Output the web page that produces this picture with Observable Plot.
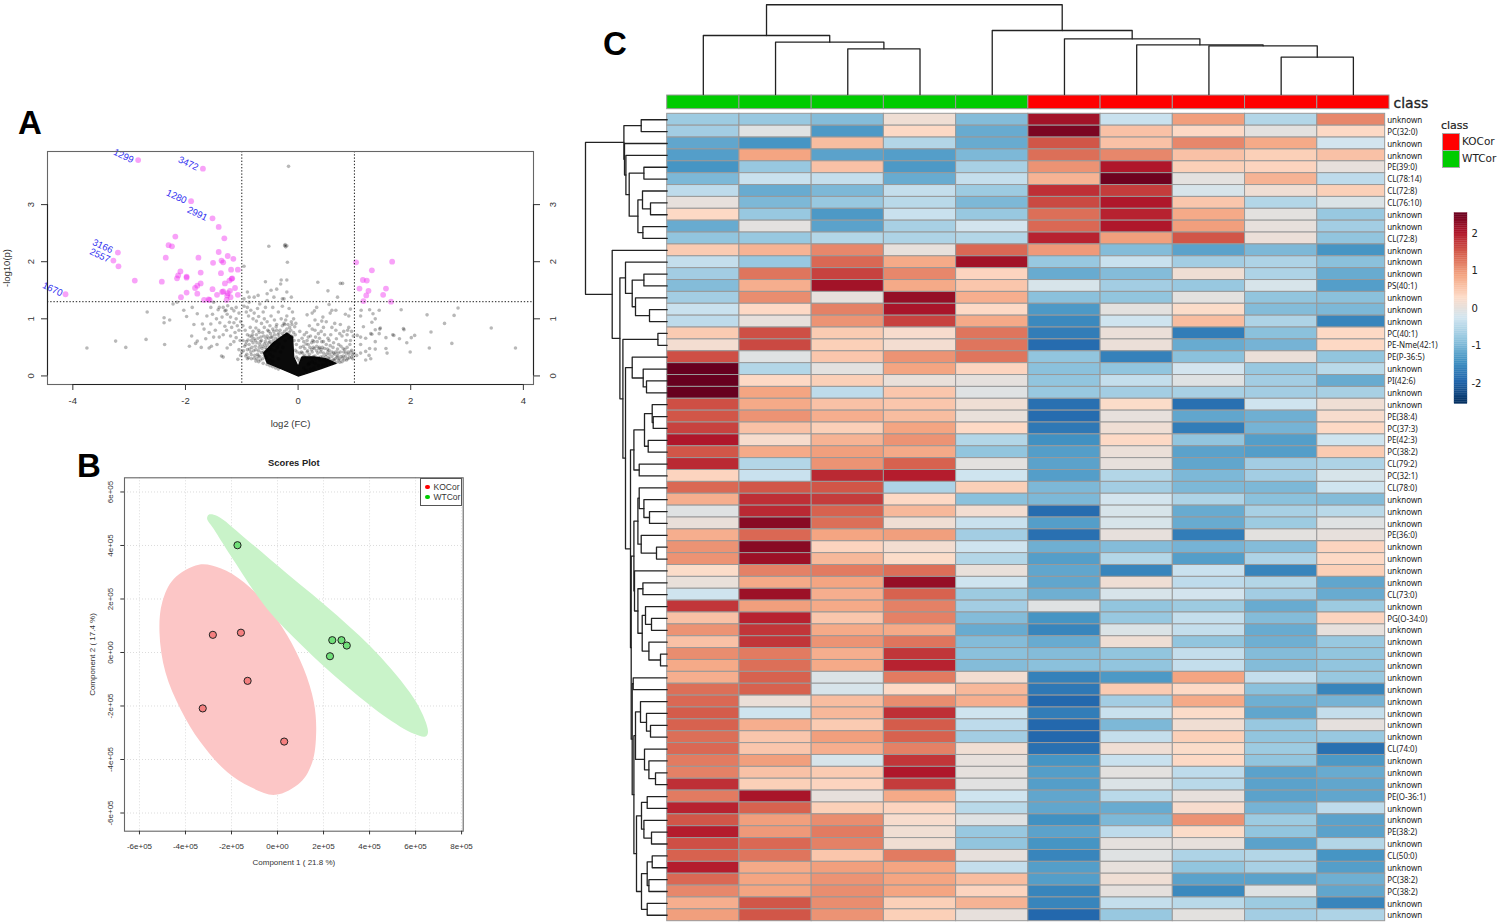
<!DOCTYPE html>
<html><head><meta charset="utf-8">
<script src="https://cdn.jsdelivr.net/npm/d3@7"></script>
<script src="https://cdn.jsdelivr.net/npm/@observablehq/plot@0.6"></script>
<style>
html,body{margin:0;background:#fff}
#page{position:relative;width:1500px;height:922px;overflow:hidden;background:#fff;font-family:"Liberation Sans",sans-serif}
.abs{position:absolute;white-space:nowrap}
.letter{font:bold 33px "Liberation Sans",sans-serif;color:#000;line-height:1}
</style></head><body><div id="page"></div>
<script>
// ---------- Panel A: volcano ----------
const upPoints=[[-2.84,3.78],[-1.69,3.63],[-1.90,3.06],[-1.52,2.76],[-1.41,2.61],[-1.31,2.41],[-2.18,2.44],[-2.30,2.29],[-2.24,2.27],[-3.2,2.16],[-3.28,2.02],[-3.19,1.92],[-4.13,1.43],[-2.90,1.67],[-2.42,1.65],[-2.35,2.07],[-1.77,2.07],[-1.51,1.98],[-1.41,2.17],[-1.25,2.1],[-1.15,2.05],[-1.36,2.02],[-1.33,1.99],[-1.07,1.86],[-1.19,1.86],[-1.73,1.81],[-1.37,1.8],[-2.09,1.83],[-2.13,1.76],[-2.15,1.71],[-1.98,1.74],[-1.98,1.72],[-1.73,1.62],[-1.79,1.58],[-1.83,1.54],[-1.98,1.46],[-2.08,1.38],[-1.79,1.44],[-1.52,1.52],[-1.44,1.42],[-1.35,1.47],[-1.33,1.48],[-1.30,1.62],[-1.22,1.67],[-1.18,1.70],[-1.17,1.71],[-1.12,1.54],[-1.07,1.42],[-1.21,1.49],[-1.25,1.45],[-1.26,1.41],[-1.2,1.38],[-1.27,1.33],[-1.67,1.33],[-1.59,1.34],[-1.57,1.33],
[1.03,1.99],[1.67,2.0],[1.31,1.85],[1.15,1.68],[1.22,1.67],[1.09,1.53],[1.56,1.53],[1.25,1.49],[1.21,1.41],[1.51,1.42],[1.16,1.31],[1.65,1.30]];
const idLabels=["1299","3472","1280","2991","3166","2557","1670"];
const idX=[-3.10,-1.95,-2.16,-1.79,-3.47,-3.52,-4.36];
const idY=[3.85,3.72,3.14,2.84,2.27,2.11,1.52];
const fcCuts=[-1,1];
const pCut=1.3;
const grayPoints=[[-3.75,.49],[-3.24,.61],[-3.06,.5],[-2.7,.64],[-2.68,1.12],[-2.38,1.02],[-2.38,.93],[-2.28,.98],[-2.37,.55],[-1.93,.52],[-1.89,.7],[-1.79,.61],[-1.82,.57],[-1.72,.5],[-1.64,.65],[-1.58,.49],[-1.54,.52],[-1.5,.68],[-1.4,.68],[-1.36,.35],[-1.33,.33],[-1.44,.55],[-1.26,.49],[-1.2,.55],[-1.14,.6],[-1.07,.29],
[-.17,3.67],[-.24,2.28],[-.23,2.30],[-.19,1.99],[.35,1.64],[.75,1.62],[.79,1.62],[-.3,1.68],[-.2,1.68],[.53,1.49],[.70,1.38],[-.12,1.38],[-.28,1.35],[-.2,1.47],[.55,1.25],[.33,1.2],[.29,1.14],[.25,1.10],[.16,1.07],[.44,1.03],[.67,1.15],[.60,1.15],[.57,1.1],[.84,1.08],[.9,1.05],[.93,1.17],[1.12,1.15],[1.27,1.16],[1.33,1.09],[1.44,1.15],[1.83,1.16],[2.29,1.07],[2.84,1.19],[2.77,1.06],[2.6,.92],[3.43,.84],[2.36,.77],[1.87,.83],[1.88,.81],[2.07,.71],[2.01,.67],[1.93,.58],[2.33,.49],[2.73,.57],[3.86,.49],[1.99,.42],[1.8,.65],[1.68,.72],[1.7,.71],[1.56,.67],[1.37,1.0],[1.31,.94],[1.46,.84],[1.45,.82],[1.37,.81],[1.44,.74],[1.29,.74],[1.31,.73],[1.37,.6],[1.56,.48],[1.58,.4],[1.37,.47],[1.27,.48],[1.2,.43],[1.29,.3],[1.2,.28],[1.26,.36],[1.11,.55],[1.2,.66],[1.16,.86],[1.11,.68],[1.05,.71],[1.11,1.05],[1.04,.36],[1.11,.4],
[.12,.48],[.18,.55],[.22,.7],[.25,.82],[.3,.8],[.16,.62],[.28,.6],[.33,.52],[.38,.66],[.4,.42],[.45,.6],[.47,.72],[.5,.55],[.55,.62],[.58,.72],[.62,.5],[.65,.92],[.6,.85],[.68,.65],[.72,.55],[.75,.9],[.78,.7],[.8,.48],[.85,.62],[.88,.8],[.9,.85],[.92,.55],[.95,.45],[.98,.7],[.35,.9],[.42,.96],[.45,.85],[.5,.95],[.3,.98],[.2,.88],[.15,.76],[.1,.6],[.08,.4],[.2,.38],[.25,.42],[.3,.35],[.35,.4],[.4,.33],[.45,.4],[.5,.38],[.55,.45],[.6,.42],[.65,.38],[.7,.35],[.75,.42],[.8,.35],[.85,.4],[.9,.38],[.95,.33],[.72,.28],[.78,.25],[.66,.3],[.62,.28],[.55,.3],[.88,.3],[.82,.28],[.25,.25],[.2,.22],[.3,.22],[.14,.32],[.17,.44],[.27,.5],[.37,.48],[.43,.5],[.52,.47],[.57,.53],[.63,.58],[.7,.47],[.76,.52],[.83,.46],[.87,.5],[.93,.62],[.97,.37],[.24,.58],[.31,.68],[.36,.74],[.41,.78],[.53,.66],[.67,.8],[.74,.74],[.81,.78],[.87,.72],[.95,.78],
[-.96,1.92],[-.52,2.27],[-.2,2.28],[-.22,2.26],[-.58,1.65],[-.38,1.52],[-.48,1.5],[-.31,1.61],[-.55,1.44],[-.9,1.47],[-.71,1.41],[-.78,1.38],[-.87,1.38],[-.96,1.35],[-.55,1.32],[-.43,1.38],[-.25,1.35],[-.87,1.29],[-.9,1.2],[-2.22,1.26],[-2.15,1.29],[-2.03,1.15],[-1.98,1.04],[-1.88,1.2],[-1.79,1.09],[-1.85,.9],[-1.7,.91],[-1.67,.82],[-1.58,.76],[-1.55,.91],[-1.52,1.08],[-1.4,1.2],[-1.55,1.2],[-1.33,1.2],[-1.5,1.29],[-1.39,.93],[-1.26,1.08],[-1.2,1.03],[-1.14,1.14],[-1.14,.93],[-1.42,1.16],[-1.3,1.14],[-1.25,1.23],[-1.18,1.18],[-1.1,1.2],[-1.05,1.1],[-1.1,1.0],[-1.22,.94],[-1.3,.87],[-1.18,.85],[-1.08,.88],[-1.02,.95],[-1.45,1.0],[-1.35,1.03],[-1.27,.8],[-1.12,.76],[-1.05,.8],[-1.2,.7],[-1.1,.67],[-1.03,.62],[-1.33,.72],[-1.0,.42],[-1.05,.46],[-1.02,.36],[-1.28,1.15],[-1.62,1.05],[-1.47,.8],
[-.96,1.22],[-.92,1.12],[-.88,1.05],[-.84,1.15],[-.8,1.0],[-.78,1.1],[-.74,.96],[-.7,1.04],[-.72,1.18],[-.65,.92],[-.6,1.0],[-.62,1.12],[-.55,.95],[-.5,.88],[-.48,1.05],[-.42,.98],[-.38,.9],[-.35,1.12],[-.3,1.0],[-.25,.92],[-.2,1.05],[-.16,1.18],[-.1,1.12],[-.12,.95],[-.06,.86],[-.28,1.22],[-.45,1.2],[-.58,1.2],[-.68,1.26],
[-.98,.88],[-.94,.8],[-.9,.72],[-.85,.85],[-.82,.68],[-.8,.78],[-.76,.62],[-.74,.72],[-.7,.8],[-.68,.55],[-.66,.68],[-.63,.76],[-.6,.85],[-.58,.6],[-.55,.7],[-.52,.78],[-.48,.68],[-.45,.82],[-.42,.72],[-.38,.8],[-.34,.75],[-.98,.62],[-.95,.52],[-.92,.6],[-.9,.46],[-.87,.55],[-.84,.42],[-.82,.5],[-.8,.58],[-.77,.36],[-.75,.46],[-.72,.38],[-.7,.44],[-.97,.44],[-.93,.35],[-.88,.32],[-.83,.3],[-.68,.34],[-.64,.48],[-.61,.42],
[-.58,.5],[-.56,.46],[-.52,.58],[-.5,.5],[-.47,.56],[-.44,.62],[-.4,.58],[-.36,.64],[-.33,.68],[-.28,.74],[-.24,.78],[-.2,.82],[-.16,.76],[-.12,.7],[-.07,.62],[-.05,.45],[-.08,.76],[-.03,.33],[.02,.26],[.06,.3],[.1,.34],[.03,.4],
[-.93,.55],[-.91,.38],[-.89,.63],[-.86,.7],[-.86,.47],[-.83,.62],[-.83,.37],[-.81,.72],[-.79,.44],[-.78,.65],[-.78,.31],[-.76,.52],[-.75,.84],[-.73,.58],[-.73,.3],[-.71,.66],[-.71,.35],[-.69,.5],[-.69,.76],[-.67,.6],[-.67,.28],[-.65,.41],[-.65,.62],[-.63,.52],[-.63,.3],[-.61,.7],[-.6,.36],[-.6,.56],[-.58,.42],[-.57,.66],[-.56,.33],[-.55,.54],[-.54,.8],[-.53,.44],[-.52,.66],[-.5,.38],[-.5,.6],[-.49,.74],[-.47,.46],[-.46,.68],[-.45,.34],[-.44,.54],[-.43,.78],[-.41,.44],[-.4,.66],[-.39,.86],[-.37,.5],[-.36,.72],[-.35,.3],[-.34,.56],[-.32,.8],[-.31,.42],[-.3,.66],[-.28,.88],[-.27,.5],[-.26,.7],[-.24,.9],[-.23,.62],[-.22,.98],[-.2,.72],[-.18,.9],[-.16,.66],[-.15,.85],[-.13,.8],[-.11,.9],[-.1,.68],[-.08,1.0],[-.05,.72],[-.04,.92],[-.03,.55],[-.02,.42],[.0,.3],[.01,.62],[.03,.78],[.04,.5],[.06,.42],[.07,.66],[.09,.52],[.11,.72],[.12,.36],[.14,.56],[.16,.42],[.18,.68],[.19,.34],[.21,.5],[.23,.32],[.24,.46],[.26,.62],[.27,.34],[.29,.48],[.31,.3],[.33,.44],[.34,.6],[.36,.32],[.38,.5],[.39,.28],[.41,.46],[.42,.6],[.44,.34],[.46,.28],[.47,.48],[.49,.34],[.51,.26],[.53,.42],[.54,.32],[.56,.38],[.58,.26],[.6,.34],[.61,.22],[.63,.4],[.64,.28],[.67,.42],[.68,.24],[.69,.33],[.71,.4],[.73,.3],[.74,.24],[.76,.34],[.79,.31],[.81,.42],[.84,.34],[.86,.28],[.89,.42],[.91,.32],[.94,.42],[.97,.3],[.99,.4],
[.22,.12],[.28,.14],[.36,.18],[.44,.19],[.5,.2],[.58,.22],[.14,.1],[.1,.14],[.18,.2],
[-.9,.3],[-.75,.26],[-.7,.25],[-.62,.22],[-.55,.2],[-.5,.18],[-.45,.16],[-.4,.14],[-.35,.12],[-.5,.28],[-.45,.25],[-.55,.27],[-.58,.32]];
const coreOutline=[[0,0],[-.26,.11],[-.55,.23],[-.61,.4],[-.44,.58],[-.2,.75],[-.1,.68],[-.08,.33],[0,.16],[.07,.33],[.28,.33],[.49,.3],[.67,.22],[.41,.13],[.14,.04]];

// ---------- Panel B: scores plot ----------
const koScores=[[-281000,66000],[-159000,74000],[-130000,-106000],[-325000,-209000],[29000,-333000]];
const wtScores=[[-174000,401000],[238000,46000],[278000,46000],[301000,26000],[228000,-14000]];
const koEllipse=[[-3.42,3.28],[-2.48,3.15],[-1.46,2.63],[-.45,1.76],[.42,.64],[1.14,-.61],[1.58,-1.86],[1.68,-2.98],[1.51,-4.10],[1.0,-4.85],[-.09,-5.32],[-1.17,-5.03],[-2.19,-4.47],[-3.35,-3.35],[-4.22,-2.11],[-4.87,-.74],[-5.13,.76],[-5.01,1.88],[-4.51,2.75]];
const wtEllipse=[[-2.99,5.15],[-2.62,5.10],[-1.46,4.31],[.42,2.94],[2.59,1.38],[4.48,-.17],[6.07,-1.92],[6.54,-2.98],[6.43,-3.14],[5.93,-3.04],[4.62,-2.36],[2.88,-1.17],[1.14,.2],[-.45,1.63],[-2.04,3.63],[-2.77,4.62],[-3.06,5.0]];
const scoreTicksX=[-6e5,-4e5,-2e5,0,2e5,4e5,6e5,8e5];
const scoreTicksY=[-6e5,-4e5,-2e5,0,2e5,4e5,6e5];
const sci={"-600000":"-6e+05","-400000":"-4e+05","-200000":"-2e+05","0":"0e+00","200000":"2e+05","400000":"4e+05","600000":"6e+05","800000":"8e+05"};

// ---------- Panel C: heatmap ----------
const rowLabels=["unknown","PC(32:0)","unknown","unknown","PE(39:0)","CL(78:14)","CL(72:8)","CL(76:10)","unknown","unknown","CL(72:8)","unknown","unknown","unknown","PS(40:1)","unknown","unknown","unknown","PC(40:1)","PE-Nme(42:1)","PE(P-36:5)","unknown","PI(42:6)","unknown","unknown","PE(38:4)","PC(37:3)","PE(42:3)","PC(38:2)","CL(79:2)","PC(32:1)","CL(78:0)","unknown","unknown","unknown","PE(36:0)","unknown","unknown","unknown","unknown","CL(73:0)","unknown","PG(O-34:0)","unknown","unknown","unknown","unknown","unknown","unknown","unknown","unknown","unknown","unknown","CL(74:0)","unknown","unknown","unknown","PE(O-36:1)","unknown","unknown","PE(38:2)","unknown","CL(50:0)","unknown","PC(38:2)","PC(38:2)","unknown","unknown"];
const heatRows=[
[-.75,-.8,-.95,.1,-.95,2.1,-.35,.9,-.55,1.1],
[-.7,-.1,-1.35,.3,-1.15,2.4,.55,.3,-.05,.3],
[-1.2,-1.4,.6,-.55,-1.15,1.5,.55,1.1,.8,-.25],
[-1.3,.85,-1.25,-1.3,-1.0,1.3,1.1,.55,.4,.55],
[-1.4,-.8,.55,-1.35,-.65,1.0,2.0,.4,.35,0],
[-1.0,-.35,-.4,-1.15,-.4,.7,2.5,-.05,.7,-.45],
[-.45,-1.15,-1.0,-.4,-.75,1.8,1.7,-.2,.1,.4],
[0,-1.0,-.8,-.5,-1.0,1.6,2.0,.5,-.55,-.15],
[.3,-.8,-1.35,-.35,-.8,1.3,1.9,.8,-.05,-.8],
[-1.15,-.05,-1.25,-.65,-.25,1.35,2.0,.9,0,-.7],
[-.85,-.8,-.55,-.6,-.55,1.9,.9,1.5,.05,-.85],
[.45,.7,1.1,0,1.35,.95,-.95,-1.25,-1.0,-1.4],
[-.4,-.8,1.35,.8,2.1,-.8,-.35,-.7,-.6,-.9],
[-.7,1.25,1.65,1.1,.35,-1.15,-.95,.1,-.6,-1.15],
[-.95,.75,2.1,.8,.5,-.2,-.7,-.8,-.2,-1.3],
[-.7,1.05,0,2.2,.75,-.9,-.85,-.05,-.85,-.9],
[-.35,.3,1.15,2.05,.3,-1.35,-.05,.25,-.95,-1.0],
[-.45,0,1.0,1.65,.8,-1.55,-.3,.6,-.6,-1.6],
[.45,1.55,.45,.2,1.25,-1.7,.05,-1.7,-.9,.3],
[.15,1.6,.4,.15,1.25,-1.9,.05,-1.15,-1.05,.3],
[1.55,-.1,.5,1.0,1.25,-.85,-1.65,-.9,.05,-.85],
[2.55,-.55,-.05,.85,.35,-.9,-.85,-.25,-.8,-.5],
[2.55,.3,.4,.02,-.02,-.85,-.4,-.1,-.7,-1.15],
[2.55,.85,-.45,.5,-.1,-.8,-.7,-.65,-.7,-.65],
[1.55,.8,.55,.5,.1,-1.85,.25,-1.85,-.3,.1],
[1.5,1.0,.75,.6,.02,-1.9,0,-1.2,-1.1,.2],
[1.65,.55,.4,.85,.3,-1.75,.1,-1.7,-1.05,.3],
[2.0,.2,.7,1.0,-.55,-1.45,.3,-.85,-1.3,-.3],
[1.5,.8,.9,.8,-.85,-1.3,.05,-1.25,-1.3,.45],
[1.85,-.55,1.0,1.4,-.05,-1.25,0,-1.2,-.7,-.6],
[.35,-.35,1.85,1.95,-.3,-1.3,-.55,-1.0,-.7,-.2],
[1.35,1.5,1.5,-.6,.4,-1.0,-.7,-1.0,-1.0,-.3],
[.75,1.8,1.7,.3,-.9,-1.0,-.25,-.6,-.9,-.95],
[-.1,1.85,1.4,.65,.15,-1.9,-.2,-1.15,-.65,-.5],
[.03,2.3,1.3,.1,-.35,-1.3,-.2,-1.15,-.75,-.1],
[.75,1.35,.85,.9,-.7,-1.85,0,-1.7,-.05,0],
[1.0,2.3,.35,.15,-.3,-1.1,-.95,-1.05,-.95,.35],
[1.0,2.15,.65,.25,-.55,-1.3,-.55,-1.3,-.6,.3],
[.25,1.15,1.2,1.3,.02,-1.2,-1.6,-.35,-1.6,.4],
[.02,.8,.85,2.2,-.3,-1.2,.1,-.45,-.55,-1.2],
[-.3,2.15,.75,1.4,-.75,-1.1,-.2,-.25,-.7,-1.15],
[1.75,.9,.8,1.15,-.7,-.1,-.85,-.75,-1.15,-.75],
[.55,1.9,.5,1.15,-.95,-1.4,-.8,-.4,-.95,.35],
[1.0,1.75,.8,.8,-1.15,-1.6,-.15,-.4,-1.15,0],
[.55,1.75,1.0,1.25,-.95,-1.15,.1,-.85,-1.1,-.8],
[1.05,1.2,.75,1.75,-.9,-.95,-.85,-.4,-.95,-.85],
[.8,1.3,.8,1.9,-.95,-.9,-.85,-.4,-.95,-.85],
[.75,1.4,-.15,1.2,.15,-1.65,-1.35,.85,-.4,-.8],
[1.3,1.4,-.2,.3,.65,-1.75,.45,.3,-.9,-1.6],
[1.35,.05,.6,1.05,.75,-1.95,-.7,.8,-1.1,-1.05],
[1.45,-.3,.65,1.8,-.3,-1.7,-.35,.25,-1.2,-.4],
[1.4,.75,.45,1.45,-.45,-1.95,-1.0,.12,-.8,-.02],
[1.3,.5,.9,1.4,-.7,-1.95,-.4,.4,-.85,-.8],
[1.35,.5,.75,1.15,.12,-1.85,.1,.25,-.75,-1.85],
[1.2,.9,-.2,1.75,0,-1.4,-.35,.3,-.85,-1.35],
[1.15,.55,.45,2.0,-.02,-1.3,-.05,-.45,-1.25,-1.15],
[1.8,.4,.35,1.7,-.08,-1.3,-.15,-.5,-1.25,-1.2],
[1.2,2.05,0,.8,-.3,-1.2,-.5,0,-1.25,-1.2],
[1.9,1.4,.4,.35,-.5,-1.2,-1.15,.2,-1.05,-.45],
[1.5,.9,1.05,.2,-.1,-1.45,-1.0,1.0,-.75,-1.25],
[1.95,.95,1.2,.12,-.8,-1.25,-.45,.25,-.85,-1.25],
[1.55,1.35,1.15,.12,-.85,-1.4,-.02,0,-1.25,-.55],
[1.4,1.25,.5,1.2,0,-1.6,-.1,-.6,-.55,-1.4],
[1.95,.8,.9,.85,-.4,-1.3,0,-.85,-.65,-1.3],
[1.35,.85,1.0,.85,.6,-1.3,.1,-1.25,-1.25,-1.1],
[1.1,.85,1.05,.85,.35,-1.6,-.02,-1.55,-.1,-1.2],
[.75,1.5,1.05,.4,.7,-1.6,-.4,-.5,-.75,-1.6],
[.9,1.5,1.0,.4,0,-1.95,-.8,-.05,-.7,-.6]];
const wtColumns=[0,1,2,3,4];
const koColumns=[5,6,7,8,9];
const colorStops=[-2.55,-1.98,-1.42,-.85,-.28,.28,.85,1.42,1.98,2.55];
const colorRamp=["#053061","#2166ac","#4393c3","#92c5de","#d1e5f0","#fddbc7","#f4a582","#d6604d","#b2182b","#67001f"];
const rampTicks=[-2,-1,0,1,2];
// dendrograms: [merge height, left child, right child]; numbers are leaf positions
const colTree=[89.7,[59,0,[52.3,1,[45.7,2,3]]],[64,4,[55.7,5,[49.7,6,[48.7,7,[37.3,8,9]]]]]];
const rowTop=[43.3,[26,0,1],[42.7,2,[41.3,3,[38,[23.3,4,5],[29.3,[24.7,6,[16.7,7,8]],[24.3,9,10]]]]]];
const rowP=[41.7,12,[35,[23.3,13,14],[31.7,15,[17.7,16,17]]]];
const rowV=[35,20,[24,21,[20.7,22,23]]];
const rowY1=[33.3,[22.7,[15,24,[14,25,26]],[19,27,28]],[28,29,30]];
const rowA=[29.3,[28,31,[23.3,32,[17.7,33,34]]],[26,35,[10.7,36,37]]];
const rowB=[32.7,38,[29.3,[24.3,39,40],[25,[21.7,41,[15.7,42,43]],[18.3,44,[6.7,45,46]]]]];
const rowS1=[31.7,[26.7,49,[20.7,50,[16.7,51,52]]],[22.7,53,[18.3,54,[11.7,55,56]]]];
const rowS2=[30.7,[25.7,[20,57,58],[23.3,59,[15.7,60,61]]],[25.7,[20,[15,62,63],[18.3,64,65]],[20,66,67]]];
const rowR=[35,[34,47,48],[33.3,rowS1,rowS2]];
const rowY=[36.7,rowY1,[36,[33.3,rowA,rowB],rowR]];
const rowQ=[44.3,[9.3,18,19],[41.7,rowV,rowY]];
const rowTree=[81.7,rowTop,[55,11,[47.3,rowP,rowQ]]];

const page=document.getElementById("page");
function place(svg,left,top){svg.style.position="absolute";svg.style.left=left+"px";svg.style.top=top+"px";svg.style.background="transparent";svg.style.overflow="visible";svg.style.maxWidth="none";page.appendChild(svg);}
function html(text,left,top,css){const d=document.createElement("div");d.className="abs";d.textContent=text;d.style.cssText+=`left:${left}px;top:${top}px;`+css;page.appendChild(d);return d;}

// Panel A
place(Plot.plot({
  width:560,height:310,marginLeft:47,marginRight:27,marginTop:21,marginBottom:56,
  style:{fontFamily:"Liberation Sans",color:"#333"},
  x:{domain:[-4.45,4.18]},y:{domain:[-.15,3.93]},
  marks:[
    Plot.line(coreOutline,{x:d=>d[0],y:d=>d[1],fill:"#0a0a0a",stroke:"#0a0a0a",strokeWidth:1.5,curve:"linear-closed"}),
    Plot.dot(grayPoints,{x:d=>d[0],y:d=>d[1],r:1.8,fill:"#000",fillOpacity:.28}),
    Plot.dot(upPoints,{x:d=>d[0],y:d=>d[1],r:2.9,fill:"#ee22ee",fillOpacity:.42}),
    Plot.ruleX(fcCuts,{stroke:"#222",strokeDasharray:"1.4,1.8",strokeWidth:1}),
    Plot.ruleY([pCut],{stroke:"#222",strokeDasharray:"1.4,1.8",strokeWidth:1}),
    Plot.text(idLabels,{x:(d,i)=>idX[i],y:(d,i)=>idY[i],rotate:25,fill:"#3030f0",fontSize:9.5}),
    Plot.frame({stroke:"#666",strokeWidth:1.1}),
    Plot.ruleX([-4.45],{y1:()=>0,y2:()=>3,stroke:"#222",strokeWidth:1.1}),
    Plot.ruleX([4.18],{y1:()=>0,y2:()=>3,stroke:"#222",strokeWidth:1.1}),
    Plot.ruleY([-.15],{x1:()=>-4,x2:()=>4,stroke:"#222",strokeWidth:1.1}),
    Plot.axisX([-4,-2,0,2,4],{anchor:"bottom",tickSize:6,tickPadding:7,fontSize:9.5,tickFormat:String,label:"log2 (FC)",labelAnchor:"center",labelArrow:"none",labelOffset:42}),
    Plot.axisY([0,1,2,3],{anchor:"left",tickSize:6,tickPadding:8,fontSize:9.5,tickRotate:-90,tickFormat:String,label:"-log10(p)",labelAnchor:"center",labelArrow:"none",labelOffset:44}),
    Plot.axisY([0,1,2,3],{anchor:"right",tickSize:6,tickPadding:16,fontSize:9.5,tickRotate:-90,tickFormat:String,label:null})
  ]}),0,130);

// Panel B
const e5=(v)=>v*1e5;
place(Plot.plot({
  width:420,height:440,marginLeft:64,marginRight:17.3,marginTop:37.3,marginBottom:49.3,
  style:{fontFamily:"Liberation Sans",color:"#333"},
  x:{domain:[-6.65e5,8.07e5]},y:{domain:[-6.68e5,6.53e5]},
  marks:[
    Plot.ruleX(scoreTicksX,{stroke:"#dcdcdc",strokeDasharray:"1,2"}),
    Plot.ruleY(scoreTicksY,{stroke:"#dcdcdc",strokeDasharray:"1,2"}),
    Plot.line(koEllipse,{x:d=>e5(d[0]),y:d=>e5(d[1]),fill:"#fcc6c6",stroke:"none",curve:"catmull-rom-closed"}),
    Plot.line(wtEllipse,{x:d=>e5(d[0]),y:d=>e5(d[1]),fill:"#c9f3c9",stroke:"none",curve:"catmull-rom-closed"}),
    Plot.dot(koScores,{x:d=>d[0],y:d=>d[1],r:3.6,fill:"#f47f7f",stroke:"#222",strokeWidth:1}),
    Plot.dot(wtScores,{x:d=>d[0],y:d=>d[1],r:3.6,fill:"#6fdf78",stroke:"#222",strokeWidth:1}),
    Plot.frame({stroke:"#666",strokeWidth:1.1}),
    Plot.text(["Scores Plot"],{frameAnchor:"top",dy:-18,fontSize:9.4,fontWeight:"bold",fill:"#222"}),
    Plot.axisX(scoreTicksX,{anchor:"bottom",tickSize:3.7,tickPadding:8,fontSize:8,tickFormat:d=>sci[d],label:"Component 1 ( 21.8 %)",labelAnchor:"center",labelArrow:"none",labelOffset:34}),
    Plot.axisY(scoreTicksY,{anchor:"left",tickSize:3.7,tickPadding:8,fontSize:8,tickRotate:-90,tickFormat:d=>sci[d],label:"Component 2 ( 17.4 %)",labelAnchor:"center",labelArrow:"none",labelOffset:35})
  ]}),60,440);

// Panel C heatmap with dendrograms
function layoutTree(tree,segs,id={n:0}){
  if(typeof tree==="number")return {p:tree+.5,h:0};
  const [h,a,b]=tree,l=layoutTree(a,segs,id),r=layoutTree(b,segs,id),k=id.n++;
  segs.push({k,p:l.p,h:l.h},{k,p:l.p,h},{k,p:r.p,h},{k,p:r.p,h:r.h});
  return {p:(l.p+r.p)/2,h};
}
const colSegs=[],rowSegs=[];layoutTree(colTree,colSegs);layoutTree(rowTree,rowSegs);
const cells=heatRows.flatMap((vals,row)=>vals.map((value,col)=>({row,col,value})));
const colUnit=72.23,rowUnit=11.87;
const lastColEnd=9.94;
const bar={y1:-1.54,y2:-.39};
const annot=(cols,fill)=>Plot.rect(cols,{x1:d=>d,x2:d=>d+1,y1:()=>bar.y1,y2:()=>bar.y2,fill,stroke:"#999",strokeWidth:1});
const colorScale={type:"linear",domain:colorStops,range:colorRamp};
place(Plot.plot({
  width:920,height:922,marginLeft:86.7,marginRight:111,marginTop:113.3,marginBottom:1.3,
  style:{fontFamily:"DejaVu Sans"},
  x:{domain:[0,10],axis:null},y:{domain:[68,0],axis:null},color:colorScale,
  marks:[
    Plot.rect(cells,{x1:"col",x2:d=>Math.min(d.col+1,lastColEnd),y1:"row",y2:d=>d.row+1,fill:"value",stroke:"#999",strokeWidth:1}),
    annot(wtColumns,"#00cc00"),annot(koColumns,"#ff0000"),
    Plot.line(colSegs,{x:"p",y:d=>-(19.3+d.h)/rowUnit,z:"k",stroke:"#222",strokeWidth:1.3}),
    Plot.line(rowSegs,{x:d=>-d.h/colUnit,y:"p",z:"k",stroke:"#222",strokeWidth:1.3}),
    Plot.text(rowLabels,{x:()=>lastColEnd,y:(d,i)=>i+.55,dx:2,textAnchor:"start",fontSize:8,fontFamily:"Noto Sans",fill:"#222"}),
    Plot.text(["class"],{x:()=>10,y:()=>-.85,dx:4,textAnchor:"start",fontSize:14,fill:"#222",stroke:"#222",strokeWidth:.3})
  ]}),580,0);

// colour bar
const rampSteps=d3.range(-2.55,2.55,.05);
place(Plot.plot({
  width:60,height:200,marginLeft:14,marginRight:33,marginTop:7.5,marginBottom:1.5,
  style:{fontFamily:"DejaVu Sans",color:"#222"},
  x:{domain:[0,1],axis:null},y:{domain:[-2.55,2.55]},color:colorScale,
  marks:[
    Plot.rect(rampSteps,{x1:()=>0,x2:()=>1,y1:d=>d,y2:d=>d+.05,fill:d=>d,stroke:d=>d,strokeWidth:.3}),
    Plot.axisY(rampTicks,{anchor:"right",tickSize:0,tickPadding:4,fontSize:10,tickFormat:String,label:null})
  ]}),1440,205);

// class legend + panel letters + score legend
html("class",1441,120,'font:11px "DejaVu Sans";color:#222;-webkit-text-stroke:.2px #222;line-height:1');
for(const [label,color,top] of [["KOCor","#ff0000",133],["WTCor","#00cc00",150]]){
  html("",1441.5,top,`width:16.5px;height:15.5px;background:${color};border:.8px solid #aaa;`);
  html(label,1462,top+3,'font:10.5px "DejaVu Sans";color:#222;line-height:1');
}
[["A",18,106],["B",77,449],["C",603,27]].forEach(([t,l,y])=>{html(t,l,y,'').classList.add("letter");});
html("",420,477.5,"width:42px;height:28px;background:#fff;border:1px solid #555;box-sizing:border-box;");
for(const [label,color,top] of [["KOCor","#ff0000",487],["WTCor","#00cc00",497]]){
  html("",425.2,top-2.2,`width:4.4px;height:4.4px;border-radius:50%;background:${color};`);
  html(label,433.5,top-4.5,'font:8.5px "Liberation Sans";color:#333;line-height:1');
}
</script></body></html>
